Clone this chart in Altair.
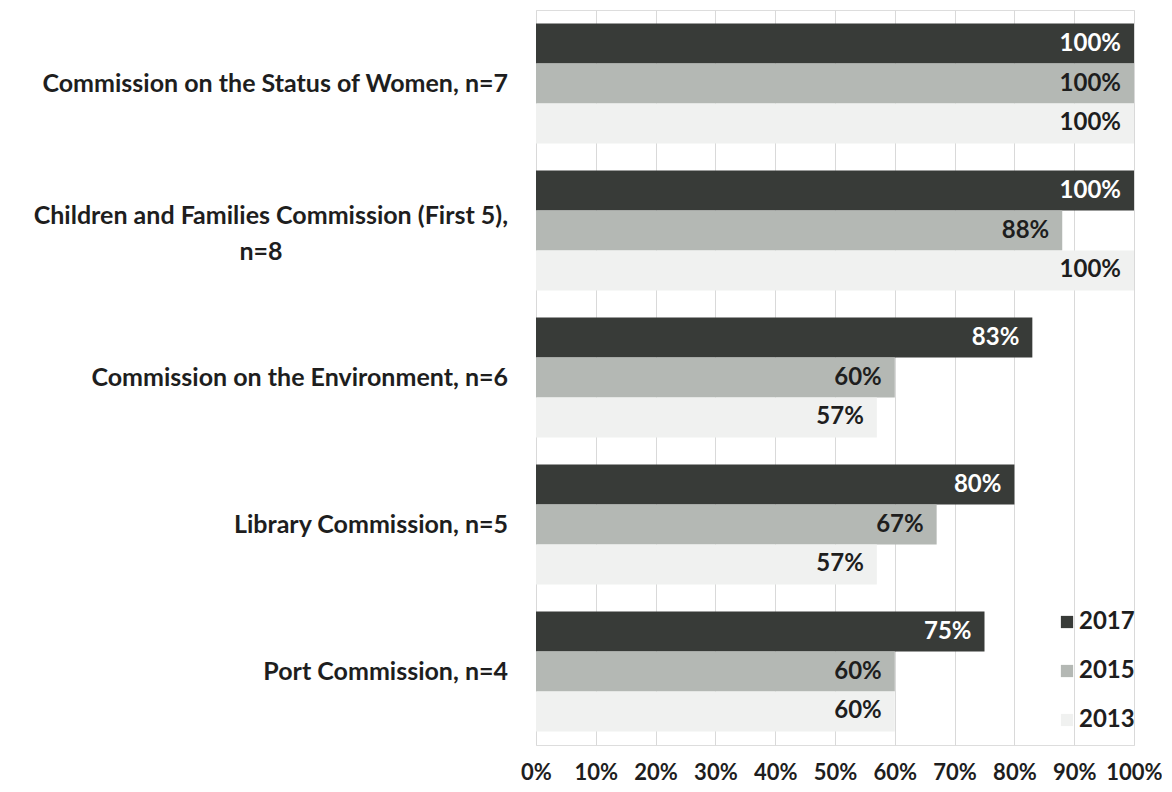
import altair as alt
import pandas as pd

categories = [
    "Commission on the Status of Women, n=7",
    "Children and Families Commission (First 5), n=8",
    "Commission on the Environment, n=6",
    "Library Commission, n=5",
    "Port Commission, n=4",
]
years = ["2017", "2015", "2013"]
values_2017 = [100, 100, 83, 80, 75]
values_2015 = [100, 88, 60, 67, 60]
values_2013 = [100, 100, 57, 57, 60]
colors = ["#383b38", "#b4b8b4", "#f0f1f0"]
x_ticks = [0, 10, 20, 30, 40, 50, 60, 70, 80, 90, 100]

rows = []
for yr, vals in zip(years, [values_2017, values_2015, values_2013]):
    for c, v in zip(categories, vals):
        rows.append({"category": c, "year": yr, "value": v,
                     "label": f"{v}%", "lc": "#ffffff" if yr == "2017" else "#1e1e1e"})
df = pd.DataFrame(rows)

FONT = "Lato"
FS = 24
y_enc = alt.Y("category:N", sort=categories, axis=None,
              scale=alt.Scale(paddingInner=0.184, paddingOuter=0.092))
yo_enc = alt.YOffset("year:N", sort=years)

base = alt.Chart(df)

bars = base.mark_bar().encode(
    x=alt.X("value:Q", scale=alt.Scale(domain=[0, 100]),
            axis=alt.Axis(values=x_ticks, labelExpr="datum.value + '%'", title=None,
                          domain=False, ticks=False, grid=True, gridColor="#d9d9d9",
                          labelFont=FONT, labelFontSize=22, labelFontWeight="bold",
                          labelColor="#1e1e1e", labelPadding=17, labelOverlap=False,
                          labelFlush=False, labelBound=False)),
    y=y_enc,
    yOffset=yo_enc,
    color=alt.Color("year:N", sort=years,
                    scale=alt.Scale(domain=years, range=colors),
                    legend=alt.Legend(title=None, orient="none", legendX=519, legendY=600,
                                      symbolType="square", symbolSize=150, symbolStrokeWidth=0,
                                      labelFont=FONT, labelFontSize=FS, labelFontWeight="bold",
                                      labelColor="#1e1e1e", rowPadding=25, padding=0,
                                      labelOffset=0)),
)

vlabels = base.mark_text(align="right", baseline="middle", dx=-13, font=FONT,
                         fontSize=FS, fontWeight="bold").encode(
    x="value:Q",
    y=y_enc,
    yOffset=yo_enc,
    text="label:N",
    color=alt.Color("lc:N", scale=None, legend=None),
)

YFS = 25
single = pd.DataFrame({"category": [categories[i] for i in [0, 2, 3, 4]]})
ylab = alt.Chart(single).mark_text(align="right", baseline="middle", dx=-28, font=FONT,
                                   fontSize=YFS, fontWeight="bold", color="#1e1e1e").encode(
    x=alt.value(0), y=y_enc, text="category:N")

two = pd.DataFrame({"category": [categories[1]],
                    "l1": ["Children and Families Commission (First 5),"],
                    "l2": ["n=8"]})
ylab2a = alt.Chart(two).mark_text(align="right", baseline="middle", dx=-28, dy=-15, font=FONT,
                                  fontSize=YFS, fontWeight="bold", color="#1e1e1e").encode(
    x=alt.value(0), y=y_enc, text="l1:N")
ylab2b = alt.Chart(two).mark_text(align="center", baseline="middle", dy=21, font=FONT,
                                  fontSize=YFS, fontWeight="bold", color="#1e1e1e").encode(
    x=alt.value(-275), y=y_enc, text="l2:N")

chart = alt.layer(bars, vlabels, ylab, ylab2a, ylab2b).properties(
    width=598, height=735,
    autosize=alt.AutoSizeParams(type="none"),
    padding={"left": 528, "top": 2, "right": 28, "bottom": 38},
).configure_view(stroke=None).configure(background="white")

chart.save("out.html", embed_options={"renderer": "svg", "actions": False})
